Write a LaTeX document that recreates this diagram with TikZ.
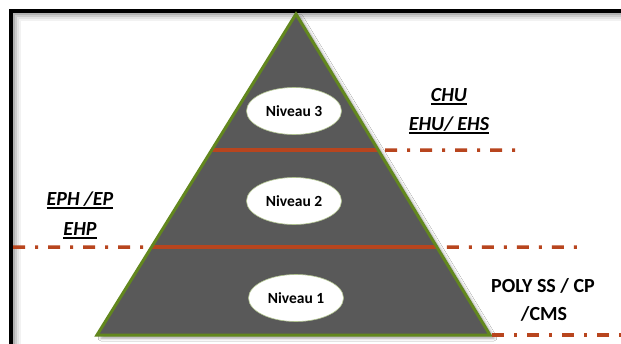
\documentclass[tikz,border=0pt]{standalone}
\usepackage{fontspec}
\setmainfont{Carlito}
\usetikzlibrary{shapes.geometric,shadows.blur,calc}
\definecolor{olivegreen}{RGB}{98,135,30}
\definecolor{rustred}{RGB}{184,69,30}
\definecolor{pyrgray}{RGB}{89,89,89}
\newcommand\myul[1]{\setbox0\hbox{#1}\rlap{\rule[-3.5pt]{\wd0}{2pt}}\box0}
\begin{document}
\begin{tikzpicture}[x=1pt,y=-1pt,
 lvl/.style={ellipse, fill=white, draw=olivegreen!50, line width=0.6pt, minimum width=95pt, minimum height=47pt, inner sep=0pt, font=\fontsize{15.5}{18}\selectfont\bfseries},
 lbl/.style={anchor=base, font=\fontsize{20}{24}\selectfont\bfseries, inner sep=0pt},
 redline/.style={draw=rustred, line width=3.5pt},
 dashline/.style={draw=rustred, line width=3.5pt, dash pattern=on 12pt off 10pt on 3pt off 10pt}]
\useasboundingbox (0,0) rectangle (621,343);
\fill[white] (0,0) rectangle (621,343);
% frame with inner shadow
\coordinate (fbl) at (11,350);
\coordinate (ftl) at (11,11);
\coordinate (ftr) at (630,11);
\foreach \o/\op in {3/0.30,5/0.20,7/0.11,9/0.05}
  \draw[black, opacity=\op, line width=2pt] (11+\o,350) -- (11+\o,11+\o) -- (630,11+\o);
\draw[black, line width=4.5pt, line join=miter] (fbl) -- (ftl) -- (ftr);
% pyramid
\coordinate (apex) at (296,14);
\coordinate (bl) at (97,335);
\coordinate (br) at (490,335);
\coordinate (l3) at ($(apex)!0.42368!(bl)$);
\coordinate (r3) at ($(apex)!0.42368!(br)$);
\coordinate (l2) at ($(apex)!0.72586!(bl)$);
\coordinate (r2) at ($(apex)!0.72586!(br)$);
\path[fill=pyrgray, blur shadow={shadow xshift=4pt, shadow yshift=-3pt, shadow blur radius=3pt, shadow opacity=40}] (apex) -- (br) -- (bl) -- cycle;
\draw[redline] (l3) -- (r3);
\draw[redline] (l2) -- (r2);
\draw[olivegreen, line width=3pt, line join=miter] (apex) -- (br) -- (bl) -- cycle;
% dash-dot extensions
\coordinate (e3) at (517,150);
\coordinate (s2) at (13,247);
\coordinate (e2) at (580,247);
\coordinate (e1) at (625,335);
\draw[dashline, dash phase=28pt] (r3) -- (e3);
\draw[dashline] (s2) -- (l2);
\draw[dashline, dash phase=25pt] (r2) -- (e2);
\draw[dashline, dash phase=33pt] (br) -- (e1);
% levels
\node[lvl] (n3) at (294,111) {Niveau 3};
\node[lvl] (n2) at (294,201) {Niveau 2};
\node[lvl] (n1) at (296,298) {Niveau 1};
% labels
\node[lbl] (chu) at (449,101) {\itshape\myul{CHU}};
\node[lbl] (ehu) at (449,130) {\itshape\myul{EHU/ EHS}};
\node[lbl] (eph) at (80,205) {\itshape\myul{EPH /EP}};
\node[lbl] (ehp) at (80,235) {\itshape\myul{EHP}};
\node[lbl] (poly) at (543,292) {POLY SS / CP};
\node[lbl] (cms) at (544,320) {/CMS};
\end{tikzpicture}
\end{document}
